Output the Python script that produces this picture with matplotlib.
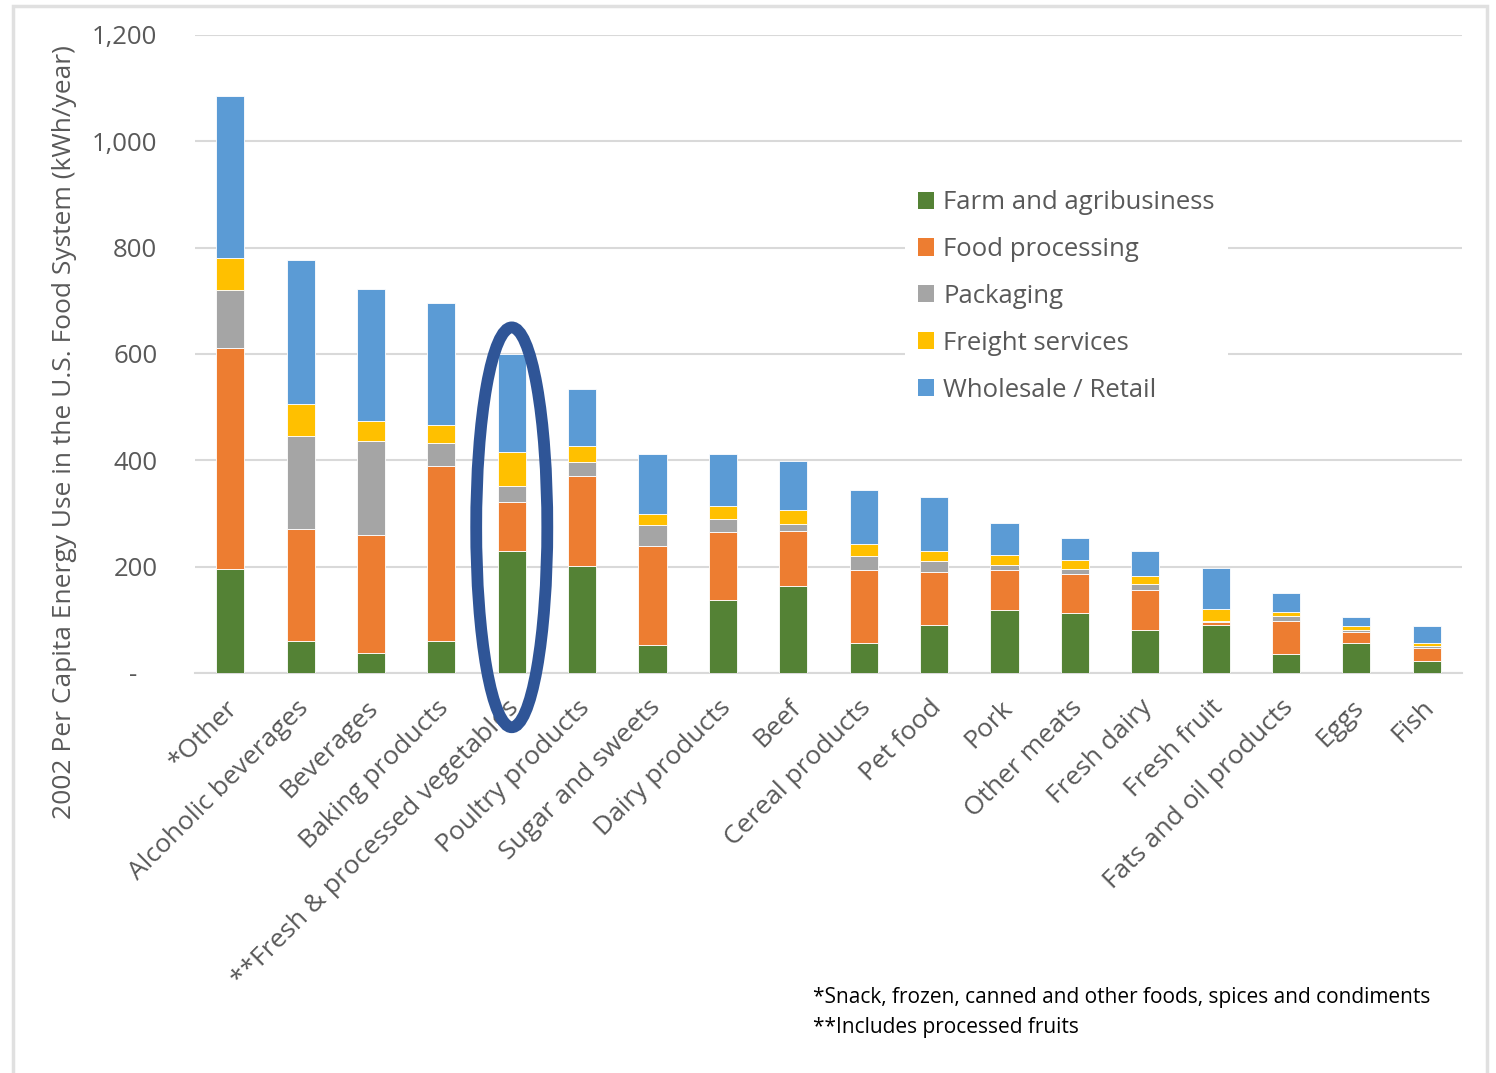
import matplotlib
matplotlib.use('Agg')
import matplotlib.pyplot as plt
import matplotlib.transforms as mtransforms
from matplotlib.patches import Ellipse, Rectangle, Patch
from matplotlib.ticker import FuncFormatter
import numpy as np

plt.rcParams['font.family'] = ['Open Sans', 'DejaVu Sans']

categories = ['*Other', 'Alcoholic beverages', 'Beverages', 'Baking products',
              '**Fresh & processed vegetables', 'Poultry products', 'Sugar and sweets',
              'Dairy products', 'Beef', 'Cereal products', 'Pet food', 'Pork',
              'Other meats', 'Fresh dairy', 'Fresh fruit', 'Fats and oil products',
              'Eggs', 'Fish']

# kWh per capita per year, by stage of the food system
farm = [196, 61, 37, 60, 230, 201, 52, 138, 164, 56, 90, 119, 113, 81, 90, 35, 56, 23]
processing = [416, 209, 223, 330, 91, 170, 187, 128, 104, 138, 100, 75, 74, 75, 5, 62, 21, 24]
packaging = [109, 175, 177, 43, 31, 25, 40, 24, 12, 27, 21, 9, 8, 12, 3, 10, 4, 3]
freight = [60, 61, 37, 33, 64, 31, 20, 25, 27, 21, 18, 19, 17, 15, 22, 8, 7, 7]
retail = [305, 271, 249, 229, 184, 108, 112, 96, 92, 102, 102, 60, 42, 47, 78, 35, 17, 32]

series = [('Farm and agribusiness', farm, '#548235'),
          ('Food processing', processing, '#ED7D31'),
          ('Packaging', packaging, '#A5A5A5'),
          ('Freight services', freight, '#FFC000'),
          ('Wholesale / Retail', retail, '#5B9BD5')]

text_color = '#595959'
grid_color = '#D9D9D9'

fig = plt.figure(figsize=(14.96, 10.73), dpi=100)
ax = fig.add_axes([195 / 1496, 1 - 673 / 1073, (1462 - 195) / 1496, (673 - 35) / 1073])

x = np.arange(len(categories))
bottom = np.zeros(len(categories))
for name, vals, color in series:
    vals = np.array(vals, dtype=float)
    ax.bar(x, vals, width=0.4, bottom=bottom, color=color, edgecolor='white',
           linewidth=0.6, label=name, zorder=3)
    bottom += vals

ax.set_xlim(-0.5, len(categories) - 0.5)
ax.set_ylim(0, 1200)
ax.set_yticks(np.arange(0, 1201, 200))
ax.yaxis.set_major_formatter(FuncFormatter(lambda v, p: '-   ' if v == 0 else f'{v:,.0f}'))
ax.grid(axis='y', color=grid_color, linewidth=1.5, zorder=0)
for side in ['top', 'right', 'left']:
    ax.spines[side].set_visible(False)
ax.spines['bottom'].set_color(grid_color)
ax.spines['bottom'].set_linewidth(1.5)

ax.tick_params(axis='y', length=0, pad=27, labelsize=18.5, labelcolor=text_color)
ax.tick_params(axis='x', length=0, pad=16, labelsize=19, labelcolor=text_color)
ax.set_xticks(x)
ax.set_xticklabels(categories, rotation=45, ha='right', va='top', rotation_mode='anchor')
shift = mtransforms.ScaledTranslation(-5 / 100, 0, fig.dpi_scale_trans)
for lbl in ax.get_xticklabels():
    lbl.set_transform(lbl.get_transform() + shift)

ax.set_ylabel('2002 Per Capita Energy Use in the U.S. Food System (kWh/year)',
              fontsize=19, color=text_color)
ax.yaxis.set_label_coords(-0.093, 0.378)

# highlight ring around the vegetables column
ring = Ellipse((4, 274), width=1.01, height=752, fill=False, edgecolor='#2F5597',
               linewidth=8.5, clip_on=False, zorder=10)
ax.add_patch(ring)

handles = [Patch(facecolor=c, edgecolor='none') for _, _, c in series]
leg = ax.legend(handles, [n for n, _, _ in series], loc='upper left',
                bbox_to_anchor=(0.55, 0.797), fontsize=18.5, frameon=True,
                handlelength=0.65, handleheight=0.65, handletextpad=0.35,
                labelspacing=0.85, borderpad=0.5)
leg.get_frame().set_facecolor('white')
leg.get_frame().set_edgecolor('none')
leg.get_frame().set_alpha(1)
leg.set_zorder(5)
for t in leg.get_texts():
    t.set_color(text_color)

fig.text(813 / 1496, 1 - 997 / 1073, '*Snack, frozen, canned and other foods, spices and condiments',
         fontsize=15, color='black', va='center', ha='left')
fig.text(813 / 1496, 1 - 1027 / 1073, '**Includes processed fruits',
         fontsize=15, color='black', va='center', ha='left')

# light chart-area frame
fig.patches.append(Rectangle((13 / 1496, -0.01), (1487 - 13) / 1496, 1 - 6 / 1073 + 0.01,
                             transform=fig.transFigure, fill=False,
                             edgecolor='#E0E0E0', linewidth=2.5))

fig.savefig('out.png', dpi=100)
